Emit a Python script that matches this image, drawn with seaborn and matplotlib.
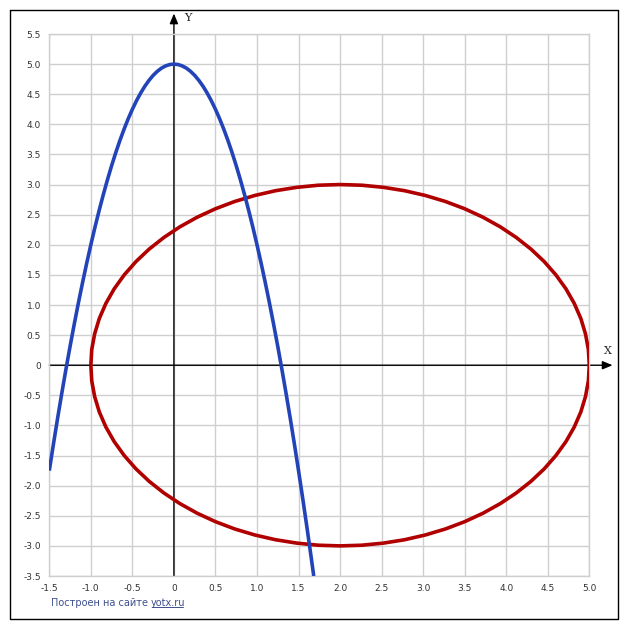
import matplotlib
matplotlib.use("Agg")
import matplotlib.pyplot as plt
import seaborn as sns
import pandas as pd
from matplotlib.lines import Line2D

# Parabola points
par_x = [-1.5, -1.45, -1.4, -1.35, -1.3, -1.25, -1.2, -1.15, -1.1, -1.05, -1.0, -0.95, -0.9, -0.85,
         -0.8, -0.75, -0.7, -0.65, -0.6, -0.55, -0.5, -0.45, -0.4, -0.35, -0.3, -0.25, -0.2, -0.15,
         -0.1, -0.05, 0.0, 0.05, 0.1, 0.15, 0.2, 0.25, 0.3, 0.35, 0.4, 0.45, 0.5, 0.55, 0.6, 0.65,
         0.7, 0.75, 0.8, 0.85, 0.9, 0.95, 1.0, 1.05, 1.1, 1.15, 1.2, 1.25, 1.3, 1.35, 1.4, 1.45,
         1.5, 1.55, 1.6, 1.65, 1.683]
par_y = [-1.75, -1.308, -0.88, -0.468, -0.07, 0.313, 0.68, 1.033, 1.37, 1.693, 2.0, 2.293, 2.57, 2.833,
         3.08, 3.313, 3.53, 3.733, 3.92, 4.093, 4.25, 4.393, 4.52, 4.633, 4.73, 4.813, 4.88, 4.933,
         4.97, 4.993, 5.0, 4.993, 4.97, 4.933, 4.88, 4.813, 4.73, 4.633, 4.52, 4.393, 4.25, 4.093,
         3.92, 3.733, 3.53, 3.313, 3.08, 2.833, 2.57, 2.293, 2.0, 1.693, 1.37, 1.033, 0.68, 0.313,
         -0.07, -0.468, -0.88, -1.308, -1.75, -2.208, -2.68, -3.168, -3.5]

# Closed curve (circle centred at 2, 0): upper and lower halves
circ_x = [5.0, 4.989, 4.954, 4.898, 4.819, 4.719, 4.598, 4.457, 4.298, 4.121, 3.928, 3.721, 3.5,
          3.268, 3.026, 2.776, 2.521, 2.261, 2.0, 1.739, 1.479, 1.224, 0.974, 0.732, 0.5, 0.279,
          0.072, -0.121, -0.298, -0.457, -0.598, -0.719, -0.819, -0.898, -0.954, -0.989, -1.0]
circ_y_upper = [0.0, 0.261, 0.521, 0.776, 1.026, 1.268, 1.5, 1.721, 1.928, 2.121, 2.298, 2.457, 2.598,
                2.719, 2.819, 2.898, 2.954, 2.989, 3.0, 2.989, 2.954, 2.898, 2.819, 2.719, 2.598, 2.457,
                2.298, 2.121, 1.928, 1.721, 1.5, 1.268, 1.026, 0.776, 0.521, 0.261, 0.0]
circ_y_lower = [0.0, -0.261, -0.521, -0.776, -1.026, -1.268, -1.5, -1.721, -1.928, -2.121, -2.298, -2.457,
                -2.598, -2.719, -2.819, -2.898, -2.954, -2.989, -3.0, -2.989, -2.954, -2.898, -2.819,
                -2.719, -2.598, -2.457, -2.298, -2.121, -1.928, -1.721, -1.5, -1.268, -1.026, -0.776,
                -0.521, -0.261, 0.0]

x_ticks = [-1.5, -1.0, -0.5, 0.0, 0.5, 1.0, 1.5, 2.0, 2.5, 3.0, 3.5, 4.0, 4.5, 5.0]
x_tick_labels = ["-1.5", "-1.0", "-0.5", "0", "0.5", "1.0", "1.5", "2.0", "2.5", "3.0", "3.5", "4.0", "4.5", "5.0"]
y_ticks = [-3.5, -3.0, -2.5, -2.0, -1.5, -1.0, -0.5, 0.0, 0.5, 1.0, 1.5, 2.0, 2.5, 3.0, 3.5, 4.0, 4.5, 5.0, 5.5]
y_tick_labels = ["-3.5", "-3.0", "-2.5", "-2.0", "-1.5", "-1.0", "-0.5", "0", "0.5", "1.0", "1.5", "2.0",
                 "2.5", "3.0", "3.5", "4.0", "4.5", "5.0", "5.5"]

sns.set_style("white")
plt.rcParams['font.family'] = ['DejaVu Sans']

fig = plt.figure(figsize=(6.27, 6.30), dpi=100)
ax = fig.add_axes([49.3 / 627, 54 / 630, 540 / 627, 542 / 630])

grid_c = "#cfcfcf"
ax.set_xlim(-1.5, 5.0)
ax.set_ylim(-3.5, 5.5)
ax.set_xticks(x_ticks)
ax.set_xticklabels(x_tick_labels)
ax.set_yticks(y_ticks)
ax.set_yticklabels(y_tick_labels)
ax.grid(True, color=grid_c, linewidth=1.0)
ax.set_axisbelow(True)
for s in ax.spines.values():
    s.set_color(grid_c)
    s.set_linewidth(1.0)
ax.tick_params(axis='both', length=0, labelsize=6.5, labelcolor="#333333")
ax.tick_params(axis='x', pad=6)
ax.tick_params(axis='y', pad=6)

df_c = pd.DataFrame({"x": circ_x + circ_x[::-1], "y": circ_y_upper + circ_y_lower[::-1]})
df_p = pd.DataFrame({"x": par_x, "y": par_y})

# axes lines with arrows
ax.annotate("", xy=(0, 5.84), xytext=(0, -3.5), xycoords='data',
            arrowprops=dict(arrowstyle="-|>,head_length=0.6,head_width=0.25", color="black", lw=1.0,
                            shrinkA=0, shrinkB=0),
            annotation_clip=False, zorder=2)
ax.annotate("", xy=(5.28, 0), xytext=(-1.5, 0), xycoords='data',
            arrowprops=dict(arrowstyle="-|>,head_length=0.6,head_width=0.25", color="black", lw=1.0,
                            shrinkA=0, shrinkB=0),
            annotation_clip=False, zorder=2)
ax.text(0.12, 5.76, "Y", fontsize=8, family="DejaVu Serif", color="#222222", ha="left", va="center",
        clip_on=False)
ax.text(5.22, 0.23, "X", fontsize=8, family="DejaVu Serif", color="#222222", ha="center", va="center",
        clip_on=False)

sns.lineplot(data=df_c, x="x", y="y", sort=False, estimator=None, color="#b00000", linewidth=2.6, ax=ax,
             zorder=3, solid_joinstyle="round")
sns.lineplot(data=df_p, x="x", y="y", sort=False, estimator=None, color="#2343b8", linewidth=2.6, ax=ax,
             zorder=4, solid_joinstyle="round", solid_capstyle="butt")
ax.set_xlabel("")
ax.set_ylabel("")

# outer frame
fig.add_artist(Line2D([9.5 / 627, 618 / 627, 618 / 627, 9.5 / 627, 9.5 / 627],
                      [1 - 9.5 / 630, 1 - 9.5 / 630, 1 - 619 / 630, 1 - 619 / 630, 1 - 9.5 / 630],
                      transform=fig.transFigure, color="black", linewidth=1.0))

# footer
fc = "#3d4f8c"
t1 = fig.text(51 / 627, 1 - 603 / 630, "Построен на сайте ", fontsize=7.0, color=fc, ha="left", va="center")
fig.canvas.draw()
r = fig.canvas.get_renderer()
bb = t1.get_window_extent(renderer=r)
x2 = bb.x1 / fig.bbox.width
t2 = fig.text(x2, 1 - 603 / 630, "yotx.ru", fontsize=7.0, color=fc, ha="left", va="center")
bb2 = t2.get_window_extent(renderer=r)
uy = (bb2.y0 + 1.5) / fig.bbox.height
fig.add_artist(Line2D([(bb2.x0 + 0.5) / fig.bbox.width, (bb2.x1 - 3.0) / fig.bbox.width], [uy, uy],
                      transform=fig.transFigure, color=fc, linewidth=0.7))

fig.savefig("out.png", dpi=100)
